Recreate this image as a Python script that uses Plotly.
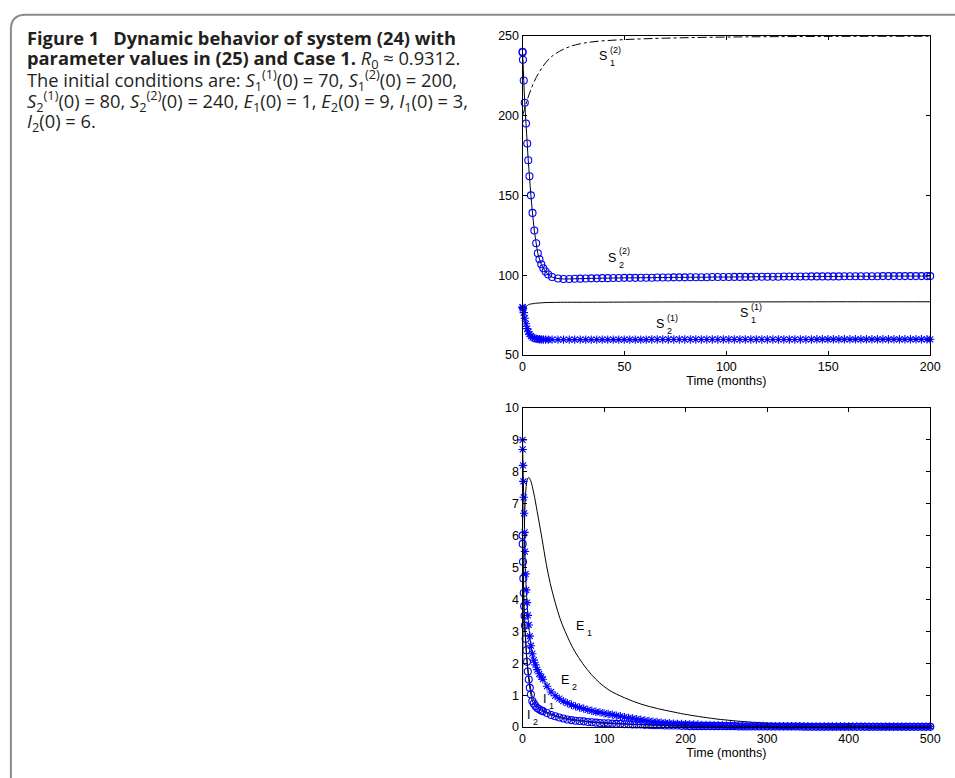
import plotly.graph_objects as go

# ---------------- top panel: susceptibles (0-200 months) ----------------
t_top_marks = [0, 0.05, 0.2, 0.6, 1.1, 1.7, 2.3, 2.8, 3.4, 4.1, 4.9, 5.8, 6.7, 7.5, 8.3, 9.2, 10.2, 11.3, 12.6, 14.5, 17.4, 20.1,
               22.9, 25.6, 28.3, 31.0, 33.7, 36.4, 39.1, 41.8, 44.5, 47.2,
               49.9, 52.6, 55.3, 58.0, 60.7, 63.4, 66.1, 68.8, 71.5, 74.2,
               76.9, 79.6, 82.3, 85.0, 87.7, 90.4, 93.1, 95.8, 98.5, 101.2,
               103.9, 106.6, 109.3, 112.0, 114.7, 117.4, 120.1, 122.8, 125.5, 128.2,
               130.9, 133.6, 136.3, 139.0, 141.7, 144.4, 147.1, 149.8, 152.5, 155.2,
               157.9, 160.6, 163.3, 166.0, 168.7, 171.4, 174.1, 176.8, 179.5, 182.2,
               184.9, 187.6, 190.3, 193.0, 195.7, 198.4, 200.0]
S2_2 = [240, 239.5, 235, 222, 208, 195, 182.5, 172, 162, 150, 139, 128, 120, 113.7, 110, 106.8, 104.3, 102.3, 100.4, 98.8, 97.9, 97.6,
        97.6, 97.7, 97.8, 97.9, 98.0, 98.0, 98.1, 98.1, 98.2, 98.2,
        98.3, 98.3, 98.3, 98.4, 98.4, 98.4, 98.5, 98.5, 98.5, 98.6,
        98.6, 98.6, 98.7, 98.7, 98.7, 98.7, 98.8, 98.8, 98.8, 98.8,
        98.9, 98.9, 98.9, 98.9, 99.0, 99.0, 99.0, 99.0, 99.0, 99.1,
        99.1, 99.1, 99.1, 99.1, 99.2, 99.2, 99.2, 99.2, 99.2, 99.2,
        99.3, 99.3, 99.3, 99.3, 99.3, 99.3, 99.3, 99.4, 99.4, 99.4,
        99.4, 99.4, 99.4, 99.4, 99.4, 99.4, 99.4]
S2_1 = [80, 79.8, 79.0, 76.5, 73, 69.5, 66.5, 64.5, 63, 61.8, 60.9, 60.4, 60.1, 59.9, 59.8, 59.7, 59.7, 59.6, 59.6, 59.6, 59.6, 59.6,
        59.6, 59.6, 59.6, 59.6, 59.6, 59.6, 59.6, 59.6, 59.6, 59.6,
        59.6, 59.6, 59.6, 59.6, 59.6, 59.7, 59.7, 59.7, 59.7, 59.7,
        59.7, 59.7, 59.7, 59.7, 59.7, 59.7, 59.7, 59.7, 59.7, 59.7,
        59.7, 59.7, 59.7, 59.7, 59.7, 59.7, 59.7, 59.7, 59.7, 59.7,
        59.7, 59.7, 59.7, 59.7, 59.7, 59.8, 59.8, 59.8, 59.8, 59.8,
        59.8, 59.8, 59.8, 59.8, 59.8, 59.8, 59.8, 59.8, 59.8, 59.8,
        59.8, 59.8, 59.8, 59.8, 59.8, 59.8, 59.8]

t_S1_1 = [0, 0.2, 0.5, 1, 1.7, 2.5, 3.3, 5, 6.5, 9, 11, 15, 20, 30, 50, 75, 100, 150, 200]
S1_1 = [70, 74, 77.5, 79.3, 80.3, 81.1, 81.7, 82.1, 82.4, 82.6, 82.8, 82.9, 83.0, 83.0, 83.1, 83.2, 83.2, 83.3, 83.3]

t_S1_2 = [0, 1, 2, 3.3, 5.8, 9.8, 14.3, 20, 26, 35, 50, 70, 100, 150, 200]
S1_2 = [200, 204, 208.5, 213.5, 221.5, 230.5, 237, 241.5, 244.3, 246.3, 247.6, 248.5, 249.2, 249.6, 249.7]

# ---------------- bottom panel: exposed / infected (0-500 months) ----------------
t_bot_marks = [0, 0.2, 0.6, 1.0, 1.5, 2.0, 2.5, 3.0, 3.8, 4.6, 5.5, 6.5, 7.6, 8.9, 10.3, 12, 13.8, 15.8, 18, 20.5, 23,
               25, 30, 35, 40, 45, 50, 55, 60, 65, 70,
               75, 80, 85, 90, 95, 100, 105, 110, 115, 120,
               125, 130, 135, 140, 145, 150, 155, 160, 165, 170,
               175, 180, 185, 190, 195, 200, 205, 210, 215, 220,
               225, 230, 235, 240, 245, 250, 255, 260, 265, 270,
               275, 280, 285, 290, 295, 300, 305, 310, 315, 320,
               325, 330, 335, 340, 345, 350, 355, 360, 365, 370,
               375, 380, 385, 390, 395, 400, 405, 410, 415, 420,
               425, 430, 435, 440, 445, 450, 455, 460, 465, 470,
               475, 480, 485, 490, 495, 500]
E2 = [9.0, 8.7, 8.2, 7.7, 7.2, 6.7, 6.1, 5.5, 4.8, 4.3, 3.9, 3.5, 3.2, 2.85, 2.55, 2.3, 2.1, 1.95, 1.8, 1.67, 1.57,
      1.5, 1.28, 1.1, 0.98, 0.89, 0.81, 0.75, 0.7, 0.65, 0.61,
      0.58, 0.54, 0.51, 0.48, 0.46, 0.43, 0.41, 0.39, 0.36, 0.34,
      0.31, 0.29, 0.27, 0.25, 0.23, 0.21, 0.19, 0.17, 0.16, 0.14,
      0.13, 0.12, 0.11, 0.10, 0.10, 0.09, 0.09, 0.08, 0.08, 0.07,
      0.07, 0.07, 0.06, 0.06, 0.06, 0.05, 0.05, 0.05, 0.05, 0.04,
      0.04, 0.04, 0.04, 0.04, 0.04, 0.03, 0.03, 0.03, 0.03, 0.03,
      0.03, 0.03, 0.03, 0.03, 0.03, 0.03, 0.02, 0.02, 0.02, 0.02,
      0.02, 0.02, 0.02, 0.02, 0.02, 0.02, 0.02, 0.02, 0.02, 0.02,
      0.01, 0.01, 0.01, 0.01, 0.01, 0.01, 0.01, 0.01, 0.01, 0.01,
      0.01, 0.01, 0.01, 0.01, 0.01, 0.01]
I2 = [6.0, 5.74, 5.18, 4.66, 4.2, 3.79, 3.49, 3.18, 2.77, 2.41, 2.05, 1.74, 1.49, 1.23, 1.02, 0.82, 0.74, 0.66, 0.6, 0.56, 0.52,
      0.5, 0.44, 0.38, 0.34, 0.3, 0.27, 0.24, 0.22, 0.2, 0.19,
      0.18, 0.16, 0.15, 0.14, 0.13, 0.12, 0.12, 0.11, 0.1, 0.1,
      0.09, 0.09, 0.08, 0.08, 0.08, 0.07, 0.07, 0.06, 0.06, 0.06,
      0.05, 0.05, 0.05, 0.05, 0.04, 0.04, 0.03, 0.03, 0.03, 0.03,
      0.03, 0.03, 0.03, 0.03, 0.03, 0.03, 0.03, 0.03, 0.02, 0.02,
      0.02, 0.02, 0.02, 0.02, 0.02, 0.02, 0.02, 0.02, 0.02, 0.02,
      0.02, 0.02, 0.02, 0.02, 0.01, 0.01, 0.01, 0.01, 0.01, 0.01,
      0.01, 0.01, 0.01, 0.01, 0.01, 0.01, 0.01, 0.01, 0.01, 0.01,
      0.01, 0.01, 0.01, 0.01, 0.01, 0.01, 0.01, 0.01, 0.01, 0.01,
      0.01, 0.01, 0.01, 0.01, 0.01, 0.01]

t_E1 = [0, 1, 2, 3, 4, 5, 6, 7.7, 10, 13.8, 18, 23.9, 29.2, 34, 40.1, 46, 52.2, 64.4, 84.7, 104.9, 125, 145.4, 165.6,
        185.9, 202, 242.6, 283, 320, 360, 400, 450, 500]
E1 = [1, 4.0, 5.8, 6.9, 7.4, 7.65, 7.78, 7.82, 7.72, 7.33, 6.75, 5.9, 5.1, 4.5, 3.9, 3.4, 3.0, 2.36, 1.64, 1.18, 0.92, 0.72,
      0.58, 0.47, 0.39, 0.24, 0.15, 0.1, 0.07, 0.05, 0.03, 0.02]

t_I1 = [0, 0.5, 1, 2, 3, 4, 5, 6.5, 8, 10, 12, 15, 20, 25, 30, 40, 50, 65, 80, 100, 130, 160, 200, 250, 300, 400, 500]
I1 = [3, 3.4, 3.5, 3.3, 3.0, 2.6, 2.25, 1.85, 1.55, 1.2, 0.95, 0.78, 0.62, 0.54, 0.47, 0.37, 0.3, 0.23, 0.18, 0.14, 0.1,
      0.07, 0.05, 0.03, 0.02, 0.01, 0.005]

top_xticks = [0, 50, 100, 150, 200]
top_yticks = [50, 100, 150, 200, 250]
bot_xticks = [0, 100, 200, 300, 400, 500]
bot_yticks = [0, 1, 2, 3, 4, 5, 6, 7, 8, 9, 10]

BLUE = "#0000ff"
AX_FONT = dict(family="Liberation Sans, Arial, sans-serif", size=12.5, color="black")

fig = go.Figure()

# top panel
fig.add_trace(go.Scatter(x=t_S1_2, y=S1_2, mode="lines", line=dict(color="black", width=1, dash="dashdot", shape="spline"),
                         xaxis="x", yaxis="y", cliponaxis=False))
fig.add_trace(go.Scatter(x=t_S1_1, y=S1_1, mode="lines", line=dict(color="black", width=1, shape="spline"),
                         xaxis="x", yaxis="y", cliponaxis=False))
fig.add_trace(go.Scatter(x=t_top_marks, y=S2_2, mode="lines+markers", line=dict(color="black", width=1, shape="spline"),
                         marker=dict(symbol="circle-open", size=7, color=BLUE, line=dict(color=BLUE, width=1.1)),
                         xaxis="x", yaxis="y", cliponaxis=False))
fig.add_trace(go.Scatter(x=t_top_marks, y=S2_1, mode="lines+markers", line=dict(color="black", width=1, shape="spline"),
                         marker=dict(symbol="asterisk-open", size=7, color=BLUE, line=dict(color=BLUE, width=1.1)),
                         xaxis="x", yaxis="y", cliponaxis=False))

# bottom panel
fig.add_trace(go.Scatter(x=t_E1, y=E1, mode="lines", line=dict(color="black", width=1, shape="spline"),
                         xaxis="x2", yaxis="y2", cliponaxis=False))
fig.add_trace(go.Scatter(x=t_I1, y=I1, mode="lines", line=dict(color="black", width=1, shape="spline"),
                         xaxis="x2", yaxis="y2", cliponaxis=False))
fig.add_trace(go.Scatter(x=t_bot_marks, y=E2, mode="lines+markers", line=dict(color="black", width=1, shape="spline"),
                         marker=dict(symbol="asterisk-open", size=7, color=BLUE, line=dict(color=BLUE, width=1.1)),
                         xaxis="x2", yaxis="y2", cliponaxis=False))
fig.add_trace(go.Scatter(x=t_bot_marks, y=I2, mode="lines+markers", line=dict(color="black", width=1, shape="spline"),
                         marker=dict(symbol="circle-open", size=7, color=BLUE, line=dict(color=BLUE, width=1.1)),
                         xaxis="x2", yaxis="y2", cliponaxis=False))

W, H = 955, 778
XDOM = [526.7 / W, 940 / W]
axis_common = dict(showline=True, linecolor="black", linewidth=1, mirror="ticks", ticks="inside", ticklen=4,
                   tickcolor="black", tickwidth=1, showgrid=False, zeroline=False, tickfont=AX_FONT)

fig.update_layout(
    width=W, height=H, autosize=False, showlegend=False,
    margin=dict(l=0, r=0, t=0, b=0),
    paper_bgcolor="white", plot_bgcolor="white",
    xaxis=dict(domain=XDOM, range=[0, 200], tickvals=top_xticks, anchor="y",
               title=dict(text="Time (months)", font=AX_FONT, standoff=3), **axis_common),
    yaxis=dict(domain=[1 - 354.3 / H, 1 - 29.3 / H], range=[50, 250], tickvals=top_yticks, anchor="x", **axis_common),
    xaxis2=dict(domain=XDOM, range=[0, 500], tickvals=bot_xticks, anchor="y2",
                title=dict(text="Time (months)", font=AX_FONT, standoff=3), **axis_common),
    yaxis2=dict(domain=[1 - 733.3 / H, 1 - 408.3 / H], range=[0, 10], tickvals=bot_yticks, anchor="x2", **axis_common),
)

# rounded caption frame (top-left corner)
x0, yt = 8 / W, 1 - 8 / H
rx, ry = 15 / W, 15 / H
fig.add_shape(type="path", xref="paper", yref="paper",
              path=f"M {x0},-0.02 L {x0},{yt - ry} Q {x0},{yt} {x0 + rx},{yt} L 1.02,{yt}",
              line=dict(color="#8c8c8c", width=2))

# caption
CAP_FONT = dict(family="Open Sans, Noto Sans, sans-serif", size=18.3, color="#231f20")
caption_lines = [
    "<b>Figure 1\u2002 Dynamic behavior of system (24) with</b>",
    "<b>parameter values in (25) and Case 1.</b> <i>R</i><sub>0</sub> \u2248 0.9312.",
    "The initial conditions are: <i>S</i><sub>1</sub><sup>(1)</sup>(0) = 70, <i>S</i><sub>1</sub><sup>(2)</sup>(0) = 200,",
    "<i>S</i><sub>2</sub><sup>(1)</sup>(0) = 80, <i>S</i><sub>2</sub><sup>(2)</sup>(0) = 240, <i>E</i><sub>1</sub>(0) = 1, "
    "<i>E</i><sub>2</sub>(0) = 9, <i>I</i><sub>1</sub>(0) = 3,",
    "<i>I</i><sub>2</sub>(0) = 6.",
]
baselines = [38, 59.5, 81, 102.5, 124]
for txt, b in zip(caption_lines, baselines):
    fig.add_annotation(text=txt, xref="paper", yref="paper", x=22 / W, y=1 - (b - 7) / H,
                       xanchor="left", yanchor="middle", showarrow=False, align="left", font=CAP_FONT)

# curve labels (letter + stacked subscript / superscript)
LBL = dict(family="Liberation Sans, Arial, sans-serif", size=12.5, color="black")
SML = dict(family="Liberation Sans, Arial, sans-serif", size=9, color="black")
labels = [
    # letter, sub, sup, x, y, xref, yref, half-width
    ("S", "1", "(2)", 39.5, 237.3, "x", "y", 5),
    ("S", "2", "(2)", 43.7, 110.9, "x", "y", 5),
    ("S", "1", "(1)", 108.7, 76.0, "x", "y", 5),
    ("S", "2", "(1)", 67.3, 69.3, "x", "y", 5),
    ("E", "1", None, 70.5, 3.17, "x2", "y2", 5),
    ("E", "2", None, 52.4, 1.49, "x2", "y2", 5),
    ("I", "1", None, 26.8, 0.87, "x2", "y2", 2.5),
    ("I", "2", None, 7.4, 0.37, "x2", "y2", 2.5),
]
for letter, sub, sup, lx, ly, xr, yr, hw in labels:
    fig.add_annotation(text=letter, x=lx, y=ly, xref=xr, yref=yr, showarrow=False, font=LBL,
                       xanchor="center", yanchor="middle")
    fig.add_annotation(text=sub, x=lx, y=ly, xref=xr, yref=yr, showarrow=False, font=SML,
                       xanchor="left", yanchor="middle", xshift=hw, yshift=-7)
    if sup:
        fig.add_annotation(text=sup, x=lx, y=ly, xref=xr, yref=yr, showarrow=False, font=SML,
                           xanchor="left", yanchor="middle", xshift=hw, yshift=6.5)

fig.write_html("out.html", config={"displayModeBar": False},
               post_script="document.body.style.margin='0px';document.body.style.overflow='hidden';")
